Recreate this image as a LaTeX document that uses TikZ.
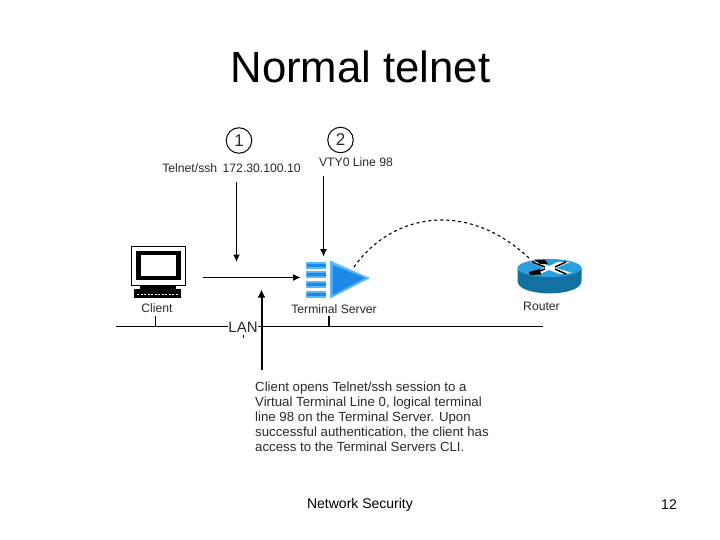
\documentclass[tikz,border=0pt]{standalone}
\usepackage{fontspec}
\setmainfont{Liberation Sans}
\usetikzlibrary{arrows.meta}
\definecolor{blueA}{HTML}{1E88E8}
\definecolor{blueB}{HTML}{5CB8F4}
\definecolor{rtop}{HTML}{2A9FE0}
\definecolor{rside}{HTML}{12719F}
\definecolor{txt}{HTML}{2A2A2A}
\tikzset{
  lbl/.style={inner sep=0pt,text=txt,font=\fontsize{12.2}{14}\selectfont},
  para/.style={inner sep=0pt,anchor=base west,text=txt,font=\fontsize{13.25}{15}\selectfont},
  slide/.style={inner sep=0pt,text=black},
  num/.style={draw=black,circle,line width=1pt,minimum size=25.5pt,inner sep=0pt,text=txt,font=\fontsize{17}{19}\selectfont},
  arr/.style={draw=black,line width=1pt,-{Latex[length=7.5pt,width=7pt]}},
  arrthick/.style={draw=black,line width=2pt,-{Latex[length=8pt,width=8pt]}},
  wire/.style={draw=black,line width=1pt},
}
\begin{document}
\begin{tikzpicture}[x=1pt,y=-1pt]
\useasboundingbox (0,0) rectangle (720,540);
\fill[white] (0,0) rectangle (720,540);
% slide text
\node[slide,font=\fontsize{43.7}{50}\selectfont] (title) at (360.5,67) {Normal telnet};
\node[slide,font=\fontsize{14}{16}\selectfont] (foot) at (360,504.5) {Network Security};
\node[slide,font=\fontsize{14}{16}\selectfont] (page) at (669,504.5) {12};
% numbered circles
\node[num] (n1) at (239,140.5) {1};
\node[num] (n2) at (340.5,140) {2};
\node[lbl] (l1) at (231.5,168.5) {Telnet/ssh\, 172.30.100.10};
\node[lbl] (l2) at (356,162.5) {VTY0 Line 98};
% client
\node[inner sep=0pt,minimum width=54pt,minimum height=39pt,draw=black,line width=1pt,fill=white] (mon) at (158.7,265.5) {};
\node[inner sep=0pt,minimum width=40pt,minimum height=25pt,draw=black,line width=4.5pt,fill=white] (scr) at (158.7,265.5) {};
\fill[black] (140,285) rectangle (176,289);
\node[inner sep=0pt,minimum width=47pt,minimum height=9pt,fill=black] (kbd) at (157.5,293.5) {};
\draw[white,line width=1.2pt,dash pattern=on 2pt off 1.5pt] (137,294.5) -- (179,294.5);
\node[lbl] (cl) at (157,308) {Client};
% terminal server
\foreach \y in {262,271,281,291}{
  \fill[blueB] (305.5,\y) rectangle (326,\y+7);
  \fill[blueA] (307,\y+1.5) rectangle (326,\y+4.5);
}
\fill[blueB] (330,260.5) -- (370,278) -- (330,298.5) -- cycle;
\fill[blueA] (332.5,265) -- (365,278) -- (332.5,295) -- cycle;
\node[lbl] (ts) at (334,309.5) {Terminal Server};
% router
\fill[rside] (517.5,268) -- (517.5,281) .. controls (517.5,297.5) and (581.5,297.5) .. (581.5,281) -- (581.5,268) -- cycle;
\fill[rtop] (549.5,268) ellipse[x radius=32,y radius=9];
\fill[white] (530,262) -- (540,262) -- (549,266) -- (558,262) -- (570,262) -- (556,268) -- (572,273) -- (560,274) -- (549,270) -- (540,274) -- (530,274) -- (544,268) -- cycle;
\draw[black,line width=1.5pt] (532,262) -- (545,267) (566,262) -- (555,267) (532,274) -- (545,269) (566,274) -- (555,269);
\fill[black] (529,272) -- (540,269) -- (541,274.5) -- (530,275) -- cycle;
\fill[black] (534,259.5) -- (545,260) -- (548,264) -- (540,264) -- cycle;
\node[lbl] (rt) at (541.5,306.5) {Router};
% dashed arc
\coordinate (da) at (354,267);
\coordinate (db) at (531,260);
\draw[black,line width=1.1pt,dash pattern=on 3pt off 3pt] (da) .. controls (392,213) and (468,199) .. (db);
% LAN
\node[inner sep=0pt,text=txt,font=\fontsize{15}{16}\selectfont] (lan) at (243,327) {LAN};
\coordinate (wl) at (116,326.5);
\coordinate (wr) at (543,326.5);
\draw[wire] (wl) -- (lan.west |- wl);
\draw[wire] (lan.east |- wr) -- (wr);
\coordinate (t1a) at (155,326.5); \coordinate (t1b) at (155,316);
\coordinate (t2a) at (329,326.5); \coordinate (t2b) at (329,316);
\draw[wire] (t1a) -- (t1b);
\draw[wire,line width=1.2pt] (t2a) -- (t2b);
\coordinate (t3a) at (243,335); \coordinate (t3b) at (243,338);
\draw[wire] (t3a) -- (t3b);
% arrows
\coordinate (a1s) at (236.5,182.5); \coordinate (a1e) at (236.5,262);
\draw[arr,line width=1.5pt] (a1s) -- (a1e);
\coordinate (a2s) at (323.5,176.5); \coordinate (a2e) at (323.5,256.5);
\draw[arr] (a2s) -- (a2e);
\coordinate (a3s) at (202.5,277.5); \coordinate (a3e) at (300.5,277.5);
\draw[arr] (a3s) -- (a3e);
\coordinate (a4s) at (261.5,370); \coordinate (a4e) at (261.5,289.5);
\draw[arrthick] (a4s) -- (a4e);
% description
\node[para] (p1) at (255,391) {Client opens Telnet/ssh session to a};
\node[para] (p2) at (255,406) {Virtual Terminal Line 0, logical terminal};
\node[para] (p3) at (255,421.5) {line 98 on the Terminal Server. Upon};
\node[para] (p4) at (255,436) {successful authentication, the client has};
\node[para] (p5) at (255,451.5) {access to the Terminal Servers CLI.};
\end{tikzpicture}
\end{document}
